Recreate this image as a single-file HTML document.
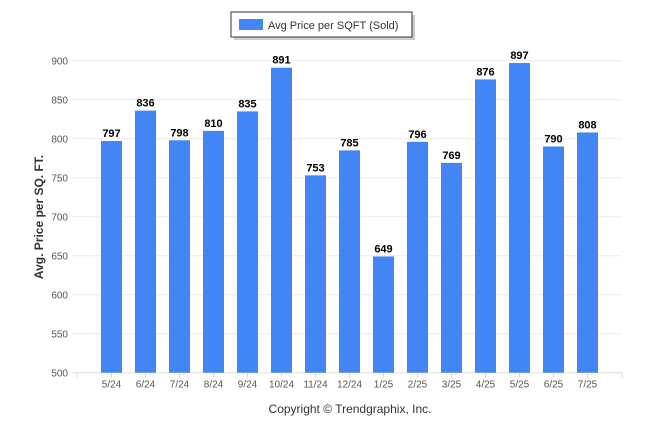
<!DOCTYPE html>
<html><head><meta charset="utf-8"><style>
body{margin:0;background:#fff;font-family:"Liberation Sans",sans-serif}
</style></head><body>
<svg width="646" height="434" xmlns="http://www.w3.org/2000/svg">
<g>
<rect x="234" y="15" width="181" height="25" fill="#999" opacity="0.5"/>
<rect x="231" y="12" width="181" height="25" fill="#fff" stroke="#333" stroke-width="1"/>
<rect x="239" y="19" width="24" height="11" fill="#4285f4"/>
<text x="268" y="29" font-size="11" fill="#333">Avg Price per SQFT (Sold)</text>
</g>
<g id="grid"></g>
<g id="bars"></g>
<text transform="translate(43,217) rotate(-90)" text-anchor="middle" font-size="12" font-weight="bold" fill="#333">Avg. Price per SQ. FT.</text>
<text x="350" y="413" text-anchor="middle" font-size="12" fill="#333">Copyright © Trendgraphix, Inc.</text>
</svg>
<script>
const categories=["5/24","6/24","7/24","8/24","9/24","10/24","11/24","12/24","1/25","2/25","3/25","4/25","5/25","6/25","7/25"];
const values=[797,836,798,810,835,891,753,785,649,796,769,876,897,790,808];
const yTicks=[500,550,600,650,700,750,800,850,900];
const NS="http://www.w3.org/2000/svg";
const yMin=500,yMax=900,plotTop=60.7,plotBottom=372.7;
function y(v){return plotBottom-(v-yMin)/(yMax-yMin)*(plotBottom-plotTop);}
function x(i){return 111.5+34*i;}
function mk(t,a,p){const e=document.createElementNS(NS,t);for(const k in a)e.setAttribute(k,a[k]);p.appendChild(e);return e;}
const g=document.getElementById('grid'),b=document.getElementById('bars');
yTicks.forEach(t=>{
 const l=mk('line',{x1:72,x2:622,y1:y(t),y2:y(t),stroke:t===500?'#ddd':'#ebebeb','stroke-width':1},g);
 
 
 const tx=mk('text',{x:68,y:y(t)+4,'text-anchor':'end','font-size':10,fill:'#555'},g);
 tx.textContent=t;
 
 
});
[77,622].forEach(px=>mk('line',{x1:px,x2:px,y1:plotBottom,y2:plotBottom+5,stroke:'#ddd'},g));
categories.forEach((c,i)=>{
 const r=mk('rect',{x:x(i)-10.5,y:y(values[i]),width:21,height:plotBottom-y(values[i]),fill:'#4285f4'},b);
 
 
 const vt=mk('text',{x:x(i),y:y(values[i])-4,'text-anchor':'middle','font-size':11,'font-weight':'bold',fill:'#000'},b);
 vt.textContent=values[i];
 
 
 mk('line',{x1:x(i),x2:x(i),y1:plotBottom,y2:plotBottom+5,stroke:'#ddd'},g);
 const xt=mk('text',{x:x(i),y:plotBottom+15,'text-anchor':'middle','font-size':10,fill:'#555'},b);
 xt.textContent=c;
 
 
});
</script>
</body></html>
